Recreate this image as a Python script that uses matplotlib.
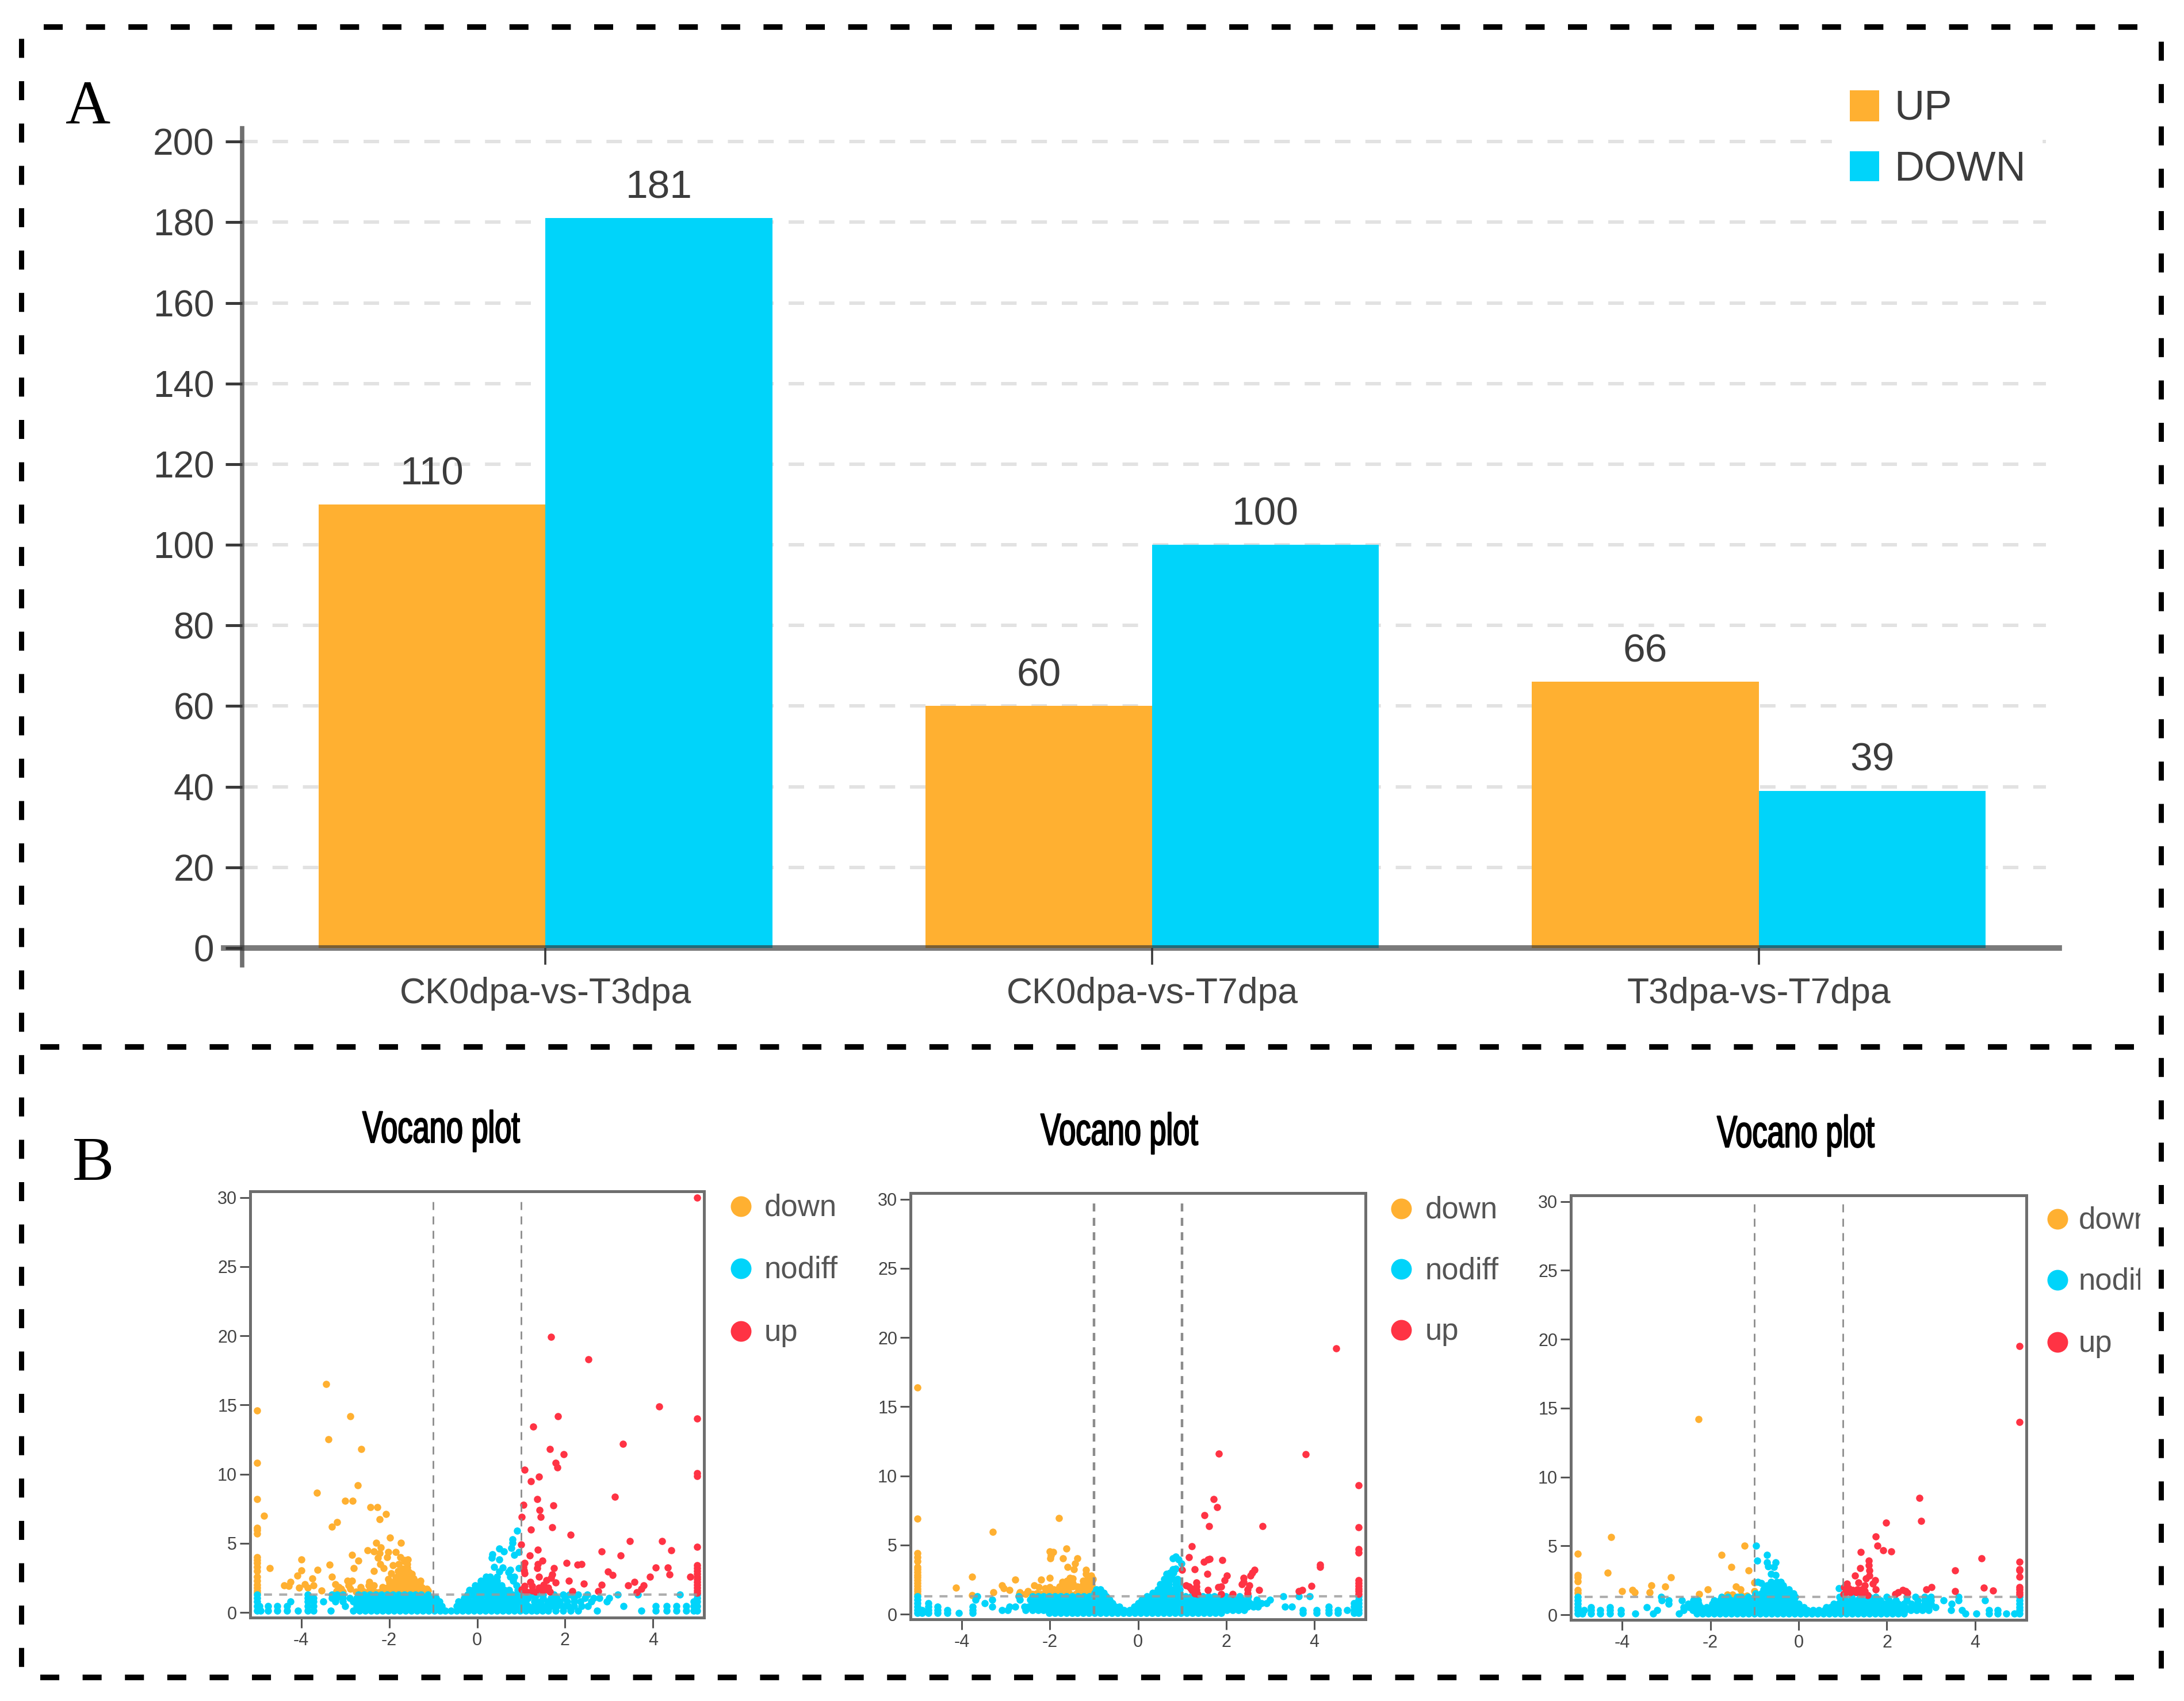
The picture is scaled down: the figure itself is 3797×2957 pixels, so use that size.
import matplotlib
matplotlib.use('Agg')
import matplotlib.pyplot as plt
import matplotlib.patheffects as pe
from matplotlib.patches import Rectangle
from matplotlib.transforms import Bbox, Affine2D

plt.rcParams['font.family'] = ['Liberation Sans', 'DejaVu Sans']
plt.rcParams['lines.scale_dashes'] = False

W, H = 3797, 2957

ORANGE = '#FFB031'
CYAN = '#00D4FA'
RED = '#FF3344'

# Panel A
groups = ['CK0dpa-vs-T3dpa', 'CK0dpa-vs-T7dpa', 'T3dpa-vs-T7dpa']
up_counts = [110, 60, 66]
down_counts = [181, 100, 39]
count_ticks = [0, 20, 40, 60, 80, 100, 120, 140, 160, 180, 200]

# Panel B, left plot
down1_x = [-3.43,-5,-2.89,-3.38,-2.63,-5,-2.71,-3.64,-5,-3.0,-2.83,-2.43,-2.27,-2.07,-4.84,-2.22,-3.18,-3.3,-5,-5,-5,
           -1.98,-2.29,-1.73,-2.49,-2.19,-2.35,-2.22,-2.02,-1.85,-2.25,-2.05,-1.75,-1.65,-2.85,-2.7,-3.99,-3.35,-2.81,
           -2.2,-2.12,-1.92,-1.79,-1.59,-1.59,-4.72,-4.0,-3.63,-2.35,-4.09,-3.3,-3.75,-1.95,-1.72,-1.72,-1.49,-1.52,
           -4.39,-4.25,-4.29,-4.05,-3.92,-3.85,-3.72,-3.54,-3.22,-3.15,-3.09,-2.95,-2.85,-2.92,-2.89,-2.65,-2.45,-2.47,-2.39,-2.45,
           -2.2,-2.1,-2.0,-1.9,-1.8,-1.7,-1.6,-1.5,-1.4,-1.3,-1.2,-2.15,-2.05,-1.95,-1.85,-1.75,-1.65,-1.55,-1.45,-1.35,-1.25,-1.15,
           -2.0,-1.9,-1.8,-1.7,-1.6,-1.5,-1.42,-1.3,-2.02,-1.75,-1.62,-1.29,-1.39,-1.12,
           -1.85,-1.78,-1.68,-1.6,-1.52,-1.45,-1.8,-1.7,-1.6,-1.55,-1.42,-1.66,-1.58,-2.3,-2.35,-2.6,-2.75,-3.05,-3.2,
           -5,-5,-5,-5,-5,-5,-5,-5,-5,-5,-5]
down1_y = [16.5,14.6,14.2,12.5,11.8,10.8,9.2,8.65,8.2,8.05,8.05,7.6,7.6,7.1,7.0,6.75,6.55,6.2,5.7,5.95,6.1,
           5.4,5.05,5.05,4.5,4.7,4.4,4.3,4.35,4.35,3.95,4.0,4.0,3.8,4.15,3.75,3.85,3.45,3.2,
           3.5,3.2,3.4,3.5,3.5,3.25,3.2,3.05,3.1,3.0,2.65,2.6,2.45,2.85,3.0,2.6,2.8,2.5,
           1.95,2.2,1.9,1.8,2.05,1.8,1.95,1.6,2.05,1.85,1.7,2.3,2.3,1.95,1.7,1.85,2.2,1.95,1.7,1.6,
           1.5,1.55,1.5,1.55,1.5,1.55,1.5,1.55,1.5,1.55,1.5,1.85,1.8,1.85,1.8,1.85,1.8,1.85,1.8,1.85,1.8,1.7,
           2.15,2.2,2.15,2.2,2.15,2.2,2.15,2.1,2.4,2.35,2.4,2.3,2.05,1.6,
           2.55,2.7,2.6,2.75,2.6,2.45,3.0,3.15,2.95,2.9,2.3,3.7,3.85,1.45,1.95,1.55,1.5,1.5,1.55,
           1.4,1.6,1.8,2.0,2.3,2.6,3.0,3.3,3.6,3.8,4.0]
up1_x = [5,1.68,2.53,4.14,1.84,5,1.28,3.32,1.66,1.97,1.79,1.82,1.08,5,5,1.41,1.22,3.13,1.37,1.05,1.73,1.42,1.45,1.01,1.71,1.22,2.13,
         3.47,4.2,1.0,5,1.38,4.41,2.83,3.26,1.2,1.08,1.05,1.06,1.08,1.38,1.48,1.37,1.41,1.58,1.71,1.75,1.78,1.68,2.03,2.28,2.37,
         2.08,2.43,2.17,2.83,2.75,2.98,3.08,3.43,3.58,3.79,3.73,3.63,3.93,4.06,4.33,4.37,4.85,
         5,5,5,5,5,5,5,5,5,5,5,1.01,1.08,1.21,1.25,1.25,1.41,1.51,1.61,1.48,1.65,1.58,1.12,1.33]
up1_y = [30,19.9,18.3,14.9,14.2,14.0,13.45,12.2,11.8,11.45,10.8,10.5,10.3,10.05,9.85,9.8,9.5,8.35,8.2,7.8,7.75,7.4,6.9,6.9,6.15,6.0,5.6,
         5.15,5.17,4.9,4.75,4.55,4.5,4.4,4.1,4.1,3.6,3.3,3.05,2.85,3.5,3.75,3.2,2.6,2.35,2.75,3.2,2.15,2.5,3.6,3.45,3.5,
         2.3,2.1,1.55,2.0,1.55,2.95,2.7,1.95,2.2,1.95,1.7,1.45,2.6,3.25,3.25,2.75,2.6,
         1.4,1.6,1.8,2.0,2.2,2.4,2.6,2.8,3.0,3.2,3.4,1.65,1.93,2.2,1.93,1.58,1.8,2.0,1.8,1.58,1.5,1.65,1.5,1.5]
nodiff1_rows = [0.12, 0.45, 0.78, 1.05, 1.3, 1.62, 1.95, 2.3, 2.6]
nodiff1_xs = [
    [-5,-4.93,-4.75,-4.55,-4.32,-4.07,-3.85,-3.72,-3.33,-2.82,-2.67,-2.54,-2.41,-2.28,-2.15,-2.02,-1.89,-1.76,-1.63,-1.5,-1.37,-1.24,-1.11,-.98,-.85,-.72,-.59,-.46,-.33,-.2,-.07,.06,.19,.32,.45,.58,.71,.84,.97,1.1,1.23,1.36,1.49,1.62,1.78,1.95,2.12,2.3,2.73,3.73,4.06,4.31,4.53,4.75,4.92,5],
    [-5,-4.95,-4.75,-4.55,-4.32,-3.85,-3.72,-3.0,-2.74,-2.61,-2.48,-2.35,-2.22,-2.09,-1.96,-1.83,-1.7,-1.57,-1.44,-1.31,-1.18,-1.05,-.92,-.8,-.47,-.4,-.27,-.14,-.01,.12,.25,.38,.51,.64,.77,.9,1.03,1.16,1.29,1.42,1.55,1.68,1.81,1.94,2.07,2.2,2.38,2.52,3.33,4.06,4.31,4.53,4.75,4.92,5],
    [-5,-4.25,-3.85,-3.72,-3.5,-3.22,-3.05,-2.82,-2.67,-2.54,-2.41,-2.28,-2.15,-2.02,-1.89,-1.76,-1.63,-1.5,-1.37,-1.24,-1.11,-.98,-.86,-.42,-.33,-.2,-.07,.06,.19,.32,.45,.58,.71,.84,.97,1.1,1.3,1.45,1.6,1.75,1.88,2.05,2.2,2.35,2.6,2.95,4.92,5],
    [-5,-3.85,-3.72,-3.3,-3.2,-3.05,-2.9,-2.74,-2.61,-2.48,-2.35,-2.22,-2.09,-1.96,-1.83,-1.7,-1.57,-1.44,-1.31,-1.18,-1.05,-.93,-.3,-.2,-.05,.08,.25,.38,.51,.64,.77,.9,1.03,1.16,1.32,1.5,1.68,1.81,2.0,2.2,2.45,2.65,2.78,3.0,5],
    [-5,-3.85,-3.3,-3.19,-3.05,-2.7,-2.57,-2.44,-2.31,-2.18,-2.05,-1.92,-1.79,-1.66,-1.53,-1.4,-1.27,-1.12,-.22,-.1,.03,.16,.29,.42,.55,.68,.81,.95,1.05,1.2,1.35,1.5,1.75,1.95,2.1,2.3,2.5,3.2,3.65,4.61,5],
    [-.18,-.08,.02,.12,.22,.32,.42,.52,.62,.72,.92],
    [-.05,.05,.15,.25,.35,.45,.55,.9],
    [.08,.16,.25,.35,.45,.82],
    [.2,.3,.45,.75,.85],
]
nodiff1_extra_x = [.35,.51,.61,.81,.91,.81,.78,.85,.95,.33,.5,.38,.58,.51,.71,.75,.95]
nodiff1_extra_y = [4.2,4.6,4.4,5.3,5.9,5.05,4.65,4.15,4.35,3.95,3.85,3.3,3.25,2.95,2.9,3.1,3.2]

# Panel B, middle plot
down2_x = [-5,-5,-1.79,-3.29,-5,-5,-5,-2.0,-1.93,-1.98,-1.99,-1.63,-1.7,-1.38,-1.43,-1.45,-1.6,-1.18,-1.18,-1.06,-3.77,-2.78,-2.2,-2.0,
           -4.13,-3.28,-3.77,-3.08,-3.05,-2.91,-2.68,-2.5,-2.35,-2.25,-2.11,-1.91,-2.08,-1.78,-1.65,-1.55,-1.48,-1.61,-1.55,-1.48,-1.68,-1.58,-1.48,-1.58,-1.68,-1.8,-1.95,
           -1.25,-1.15,-1.05,-1.25,-1.15,-1.05,-1.28,-1.18,-1.05,-1.25,-1.15,-1.05,-5,-5,-5,-5,-5,-5,-5,-5,-5,-5,-5,
           -2.7,-2.55,-2.4,-2.3,-2.2,-2.1,-2.0,-1.9,-1.78,-1.66,-1.55,-1.42,-1.32,-1.2,-1.1,-1.03,-1.35,-1.38,-1.72,-1.85,-2.0]
down2_y = [16.4,6.9,6.95,5.97,4.4,4.1,3.85,4.54,4.49,4.24,4.03,4.76,4.03,4.03,3.68,3.26,3.4,3.2,2.92,2.78,2.7,2.5,2.5,2.64,
           1.9,1.6,1.39,2.08,1.87,1.73,1.6,1.67,2.08,1.94,1.87,1.8,1.6,2.0,2.2,2.64,2.57,2.43,2.2,2.25,1.87,1.94,2.0,1.65,1.6,1.6,1.52,
           2.43,2.5,2.36,2.15,2.15,2.08,1.87,1.87,1.8,1.6,1.6,1.6,1.45,1.65,1.85,2.05,2.25,2.45,2.65,2.85,3.05,3.25,3.4,
           1.45,1.45,1.45,1.5,1.45,1.5,1.45,1.5,1.45,1.45,1.45,1.45,1.45,1.45,1.45,2.55,1.75,2.0,2.35,1.75,1.95]
up2_x = [4.5,1.83,3.8,5,1.72,1.8,1.51,1.61,2.83,5,1.22,5,5,1.15,1.49,1.59,1.62,1.91,4.13,4.13,1.0,1.29,1.57,2.64,2.59,2.55,2.02,1.97,2.39,2.39,2.35,2.52,2.49,2.75,
         1.89,1.82,1.89,1.59,2.15,2.49,3.94,3.72,3.65,5,5,5,5,5,5,1.09,1.15,1.19,1.32,1.33,1.32,1.29,1.35,1.22]
up2_y = [19.2,11.6,11.55,9.3,8.3,7.75,7.15,6.35,6.35,6.3,4.9,4.7,4.45,4.1,3.78,3.95,4.0,3.93,3.6,3.4,3.2,3.25,2.9,3.22,2.98,2.8,2.78,2.45,2.63,2.35,2.15,2.08,1.8,1.73,
         2.0,1.95,1.45,1.73,1.45,1.52,2.04,1.76,1.66,1.45,1.65,1.85,2.05,2.25,2.45,2.08,2.0,1.87,2.3,2.0,1.73,1.52,1.45,1.73]
nodiff2_rows = [0.1, 0.3, 0.55, 0.8, 1.05, 1.3, 1.55, 1.8, 2.15, 2.55, 3.0]
nodiff2_xs = [
    [-5,-4.9,-4.75,-4.55,-4.33,-4.06,-3.75,-2.02,-1.89,-1.76,-1.63,-1.5,-1.37,-1.24,-1.11,-.98,-.85,-.72,-.59,-.46,-.33,-.2,-.07,.06,.19,.32,.45,.58,.71,.84,.97,1.1,1.23,1.36,1.49,1.62,1.75,1.88,3.74,4.05,4.32,4.54,4.9,5],
    [-5,-4.9,-4.75,-4.55,-4.33,-3.75,-3.08,-2.95,-2.55,-2.4,-2.27,-2.14,-2.01,-1.88,-1.75,-1.62,-1.49,-1.36,-1.23,-1.1,-.97,-.84,-.71,-.58,-.45,-.32,-.19,-.06,.07,.2,.33,.46,.59,.72,.85,.98,1.11,1.24,1.37,1.5,1.63,1.76,1.89,2.02,2.15,2.28,2.41,3.74,4.05,4.32,4.54,4.74,4.9,5],
    [-5,-4.75,-4.55,-3.75,-3.31,-2.91,-2.78,-2.58,-2.48,-2.34,-2.21,-2.08,-1.95,-1.82,-1.69,-1.56,-1.43,-1.3,-1.17,-1.04,-.91,-.78,-.65,-.52,-.43,-.08,.02,.15,.28,.41,.54,.67,.8,.93,1.06,1.19,1.32,1.45,1.58,1.71,1.84,1.97,2.1,2.23,2.36,2.49,2.62,2.72,3.33,3.49,4.32,4.9,5],
    [-5,-4.75,-3.48,-2.4,-2.27,-2.14,-2.01,-1.88,-1.75,-1.62,-1.49,-1.36,-1.23,-1.1,-.97,-.84,-.71,-.58,.0,.07,.2,.33,.46,.59,.72,.85,.98,1.11,1.24,1.37,1.5,1.63,1.76,1.89,2.02,2.15,2.28,2.41,2.54,2.67,2.8,2.92,4.9,5],
    [-5,-3.68,-3.31,-2.68,-2.45,-2.34,-2.21,-2.08,-1.95,-1.82,-1.69,-1.56,-1.43,-1.3,-1.17,-1.04,-.91,-.78,-.65,.09,.15,.28,.41,.54,.67,.8,.93,1.06,1.19,1.32,1.45,1.58,1.71,1.84,1.97,2.1,2.23,2.36,2.49,2.7,3.0,5],
    [-5,-3.65,-2.71,-2.4,-2.27,-2.14,-2.01,-1.88,-1.75,-1.62,-1.49,-1.36,-1.23,-1.1,-.97,-.84,-.73,.2,.3,.43,.56,.69,.82,.95,1.08,1.21,1.34,1.47,1.6,1.73,1.86,1.99,2.12,2.3,2.5,3.29,3.65,3.89,5],
    [-.98,-.88,-.78,.33,.43,.55,.65,.75,.85,.95],
    [-.95,-.85,.45,.55,.65,.75,.85,.95],
    [.5,.6,.7,.85,.95],
    [.6,.7,.79,.89],
    [.72,.8],
]
nodiff2_extra_x = [.79,.85,.92,.99,.79,.85,.65]
nodiff2_extra_y = [4.03,4.17,3.96,3.68,3.26,3.3,2.9]

# Panel B, right plot
down3_x = [-2.27,-4.25,-5,-1.22,-1.74,-1.52,-1.14,-4.32,-5,-5,-5,-2.89,-1.0,-3.34,-3.02,-3.77,-3.72,-4.0,-3.37,-2.26,-2.06,-1.62,-1.42,-1.32,-1.3,-1.17,-1.0,-5,-5,-1.5]
down3_y = [14.2,5.64,4.43,5.0,4.36,3.49,3.22,3.04,2.9,2.7,2.42,2.7,2.35,2.14,2.07,1.79,1.65,1.72,1.65,1.51,1.83,1.47,2.07,1.86,1.44,1.38,1.72,1.79,1.58,1.45]
up3_x = [5,5,2.73,2.78,1.98,1.74,1.78,1.92,2.1,1.41,4.14,5,1.59,1.59,3.55,1.39,5,5,5,1.6,1.28,1.6,1.53,1.73,1.68,1.75,1.36,1.5,1.1,1.03,1.13,1.23,1.33,1.43,1.5,1.07,1.17,1.3,1.43,1.02,1.56,
         2.26,2.36,2.42,2.46,2.19,2.89,3.01,3.54,4.2,4.4,5,5,5,5]
up3_y = [19.5,14,8.5,6.8,6.7,5.7,5,4.67,4.6,4.55,4.1,3.85,3.95,3.6,3.2,3.4,3.32,3.2,2.76,3.2,2.83,2.86,2.63,2.5,2.28,1.83,2.35,2.14,2.28,2,1.93,1.79,1.86,1.86,1.72,1.65,1.65,1.65,1.51,1.5,1.44,
         1.65,1.79,1.72,1.58,1.51,1.86,2,1.72,1.97,1.75,1.45,1.65,1.85,2.0]
nodiff3_rows = [0.1, 0.32, 0.55, 0.8, 1.05, 1.3, 1.55, 1.85, 2.15, 2.4]
nodiff3_xs = [
    [-5,-4.9,-4.7,-4.5,-4.28,-4.03,-3.7,-3.3,-2.71,-2.3,-2.17,-2.04,-1.91,-1.78,-1.65,-1.52,-1.39,-1.26,-1.13,-1.0,-.87,-.74,-.61,-.48,-.35,-.22,-.09,.04,.17,.3,.43,.56,.69,.82,.95,1.08,1.21,1.34,1.47,1.6,1.73,1.86,1.99,2.12,2.25,2.38,3.78,4.03,4.31,4.51,4.7,4.88,5],
    [-5,-4.86,-4.7,-4.5,-4.28,-4.03,-3.2,-2.6,-2.4,-2.27,-2.14,-2.01,-1.88,-1.75,-1.62,-1.49,-1.36,-1.23,-1.1,-.97,-.84,-.71,-.58,-.45,-.32,-.19,-.06,.07,.2,.33,.46,.59,.72,.85,.98,1.11,1.24,1.37,1.5,1.63,1.76,1.89,2.02,2.15,2.28,2.41,2.54,2.67,2.8,2.95,3.45,3.7,4.31,4.51,5],
    [-5,-4.7,-4.28,-3.44,-2.6,-2.48,-2.35,-2.22,-2.09,-1.96,-1.83,-1.7,-1.57,-1.44,-1.31,-1.18,-1.05,-.92,-.79,-.66,-.53,-.4,-.27,-.14,-.01,.12,.62,.72,.85,.98,1.11,1.24,1.37,1.5,1.63,1.76,1.89,2.02,2.15,2.28,2.41,2.54,2.67,2.8,2.95,3.1,5],
    [-5,-2.95,-2.5,-2.4,-2.27,-1.95,-1.82,-1.69,-1.56,-1.43,-1.3,-1.17,-1.04,-.91,-.78,-.65,-.52,-.39,-.26,-.13,0,.8,.9,1.03,1.16,1.29,1.42,1.55,1.68,1.81,1.94,2.1,2.25,2.38,2.55,2.7,2.85,3.0,3.47,5],
    [-5,-3.1,-2.95,-2.64,-2.38,-2.28,-1.92,-1.79,-1.66,-1.53,-1.4,-1.27,-1.14,-1.01,-.88,-.75,-.62,-.49,-.36,-.23,-.1,.95,1.05,1.18,1.31,1.44,1.57,1.7,1.85,2.05,2.2,2.45,2.7,2.85,3.0,3.28,3.62,4.22,5],
    [-5,-3.12,-1.75,-1.6,-1.4,-1.3,-1.15,-1.0,-.87,-.74,-.61,-.48,-.35,-.22,-.08,.93,1.03,1.2,1.4,1.6,1.75,2.0,2.45,2.65,2.85,3.0,3.62,5],
    [-.98,-.85,-.72,-.59,-.46,-.33,-.2,-.12],
    [-.8,-.68,-.55,-.42,-.3,-.22],
    [-.72,-.6,-.47,-.35],
    [-.62,-.5,-.4],
]
nodiff3_extra_x = [-.97,-.72,-.94,-.72,-.52,-.69,-.56,-.62,-.52,-.92,.91,-.85]
nodiff3_extra_y = [5,4.36,3.94,3.8,3.8,3.5,3.46,2.97,2.9,2.4,1.93,2.3]

volcano_ticks_x = [-4, -2, 0, 2, 4]
volcano_ticks_y = [0, 5, 10, 15, 20, 25, 30]
legend_names = ['down', 'nodiff', 'up']
legend_colors = [ORANGE, CYAN, RED]


class Squeeze(pe.AbstractPathEffect):
    # condensed look of the titles, no narrow font is installed
    def __init__(self, sx, cx):
        super().__init__()
        self.sx, self.cx = sx, cx

    def draw_path(self, renderer, gc, tpath, affine, rgbFace):
        gc0 = renderer.new_gc()
        gc0.copy_properties(gc)
        gc0.set_linewidth(1.6)
        gc0.set_foreground('black')
        a = affine + Affine2D().translate(-self.cx, 0).scale(self.sx, 1).translate(self.cx, 0)
        renderer.draw_path(gc0, tpath, a, rgbFace)
        gc0.restore()


def axes_at(fig, left, top, right, bottom):
    return fig.add_axes([left/W, 1-bottom/H, (right-left)/W, (bottom-top)/H])


def flatten_rows(rows, xs, extra_x, extra_y):
    x, y = list(extra_x), list(extra_y)
    for row, values in zip(rows, xs):
        x += values
        y += [row]*len(values)
    return x, y


fig = plt.figure(figsize=(W/100, H/100), dpi=100, facecolor='white')

# -------- A: bars
ax = axes_at(fig, 421, 223, 3585, 1648)
ax.set_xlim(-0.5, 2.5)
ax.set_ylim(0, 203.3)
pos = list(range(len(groups)))
bw = 0.374
for v in count_ticks[1:]:
    ax.plot([-0.5, 2.473], [v, v], color='#e2e2e2', lw=4.3, ls=(0, (19.4, 18.6)), zorder=1, solid_capstyle='butt')
ax.bar([p-bw/2 for p in pos], up_counts, bw, color=ORANGE, zorder=2)
ax.bar([p+bw/2 for p in pos], down_counts, bw, color=CYAN, zorder=2)
for p, u, d in zip(pos, up_counts, down_counts):
    for xx, v in ((p-bw/2, u), (p+bw/2, d)):
        ax.annotate(str(v), (xx, v), xytext=(0, 15), textcoords='offset points', ha='center', va='bottom',
                    fontsize=50, color='#3c3c3c')
ax.set_xticks(pos)
ax.set_xticklabels(groups, fontsize=45, color='#444444')
ax.set_yticks(count_ticks)
ax.set_yticklabels([str(v) for v in count_ticks], fontsize=46, color='#3c3c3c')
ax.tick_params(axis='y', length=21, width=3.6, color='#3a3a3a', pad=14)
ax.tick_params(axis='x', length=21, width=2.6, color='#3a3a3a', pad=15)
for s in ('top', 'right'):
    ax.spines[s].set_visible(False)
ax.spines['left'].set(color=(0.2, 0.2, 0.2, 0.7), lw=5.5, zorder=5)
ax.spines['left'].set_bounds(-4.3, 203.3)
ax.spines['bottom'].set(color=(0.2, 0.2, 0.2, 0.65), lw=7, zorder=5)
ax.spines['bottom'].set_bounds(-0.53, 2.495)
ax.patch.set_visible(False)

# -------- B: volcano plots
panels = [
    dict(box=(435, 2071, 1224, 2812), d=(down1_x, down1_y), u=(up1_x, up1_y),
         n=flatten_rows(nodiff1_rows, nodiff1_xs, nodiff1_extra_x, nodiff1_extra_y), lw=2.0),
    dict(box=(1583, 2074, 2374, 2815), d=(down2_x, down2_y), u=(up2_x, up2_y),
         n=flatten_rows(nodiff2_rows, nodiff2_xs, nodiff2_extra_x, nodiff2_extra_y), lw=3.2),
    dict(box=(2731, 2078, 3523, 2816), d=(down3_x, down3_y), u=(up3_x, up3_y),
         n=flatten_rows(nodiff3_rows, nodiff3_xs, nodiff3_extra_x, nodiff3_extra_y), lw=2.0),
]
for p in panels:
    a = axes_at(fig, *p['box'])
    a.set_xlim(-5.16, 5.16)
    a.set_ylim(-0.37, 30.44)
    a.scatter(*p['d'], s=82, color=ORANGE, linewidths=0, clip_on=False, zorder=2)
    a.scatter(*p['n'], s=82, color=CYAN, linewidths=0, zorder=3)
    a.scatter(*p['u'], s=82, color=RED, linewidths=0, zorder=4, clip_on=False)
    a.plot([-1, -1], [0, 30], color='#8c8c8c', lw=p['lw'], ls=(0, (10, 8)), zorder=5)
    a.plot([1, 1], [0, 30], color='#8c8c8c', lw=p['lw'], ls=(0, (10, 8)), zorder=5)
    a.plot([-4.85, 5], [1.3, 1.3], color='#9a9a9a', lw=3, ls=(0, (10, 9)), alpha=0.8, zorder=5)
    a.set_xticks(volcano_ticks_x)
    a.set_xticklabels([str(v) for v in volcano_ticks_x], fontsize=22, color='#444444')
    a.set_yticks(volcano_ticks_y)
    a.set_yticklabels([str(v) for v in volcano_ticks_y], fontsize=22, color='#444444')
    a.tick_params(axis='both', length=13, width=2.2, color='#555555')
    a.tick_params(axis='x', pad=5)
    a.tick_params(axis='y', pad=3.5)
    for s in a.spines.values():
        s.set(color='#6e6e6e', lw=3.6)

# -------- overlay: frame, letters, legends, titles
ov = fig.add_axes([0, 0, 1, 1], zorder=10)
ov.set_xlim(0, W)
ov.set_ylim(H, 0)
ov.axis('off')

dash = (0, (23.8, 29.2))
ov.plot([76, 3724], [47, 47], color='black', lw=7, ls=dash, solid_capstyle='butt')
ov.plot([70, 3724], [1820, 1820], color='black', lw=7, ls=dash, solid_capstyle='butt')
ov.plot([70, 3724], [2916, 2916], color='black', lw=7, ls=dash, solid_capstyle='butt')
ov.plot([37, 37], [67, 2900], color='black', lw=6.5, ls=dash, solid_capstyle='butt')
ov.plot([3757, 3757], [72, 2900], color='black', lw=6.5, ls=dash, solid_capstyle='butt')

ov.text(114, 214, 'A', fontsize=78, family=['Liberation Serif'], color='black', va='baseline', ha='left')
ov.text(126, 2051, 'B', fontsize=78, family=['Liberation Serif'], color='black', va='baseline', ha='left')

ov.add_patch(Rectangle((3185, 225), 365, 110, color='white', zorder=1))
ov.add_patch(Rectangle((3216, 157), 51, 54, color=ORANGE, lw=0, zorder=2))
ov.add_patch(Rectangle((3216, 263), 51, 52, color=CYAN, lw=0, zorder=2))
ov.text(3293, 189, 'UP', fontsize=52, color='#3c3c3c', va='center', ha='left', zorder=3)
ov.text(3293, 295, 'DOWN', fontsize=52, color='#3c3c3c', va='center', ha='left', zorder=3)

for cx, by in ((767, 1986), (1946, 1990), (3122, 1994)):
    t = ov.text(cx, by, 'Vocano plot', fontsize=56, color='black', ha='center', va='baseline')
    t.set_path_effects([Squeeze(0.673, cx)])

legend_pos = [(1288, 1329, (2097, 2205, 2314)), (2436, 2478, (2101, 2206, 2312)), (3577, 3614, (2119, 2225, 2333))]
for cx, tx, ys in legend_pos:
    for name, col, y in zip(legend_names, legend_colors, ys):
        ov.scatter([cx], [y], s=670, color=col, linewidths=0)
        t = ov.text(tx, y + 3, name, fontsize=38, color='#555555', va='center', ha='left')
        # third plot's legend is cut off at the edge of the screenshot
        t.set_clip_box(Bbox([[0, 0], [3721, H]]))
        t.set_clip_on(True)

fig.savefig('out.png', dpi=100)
